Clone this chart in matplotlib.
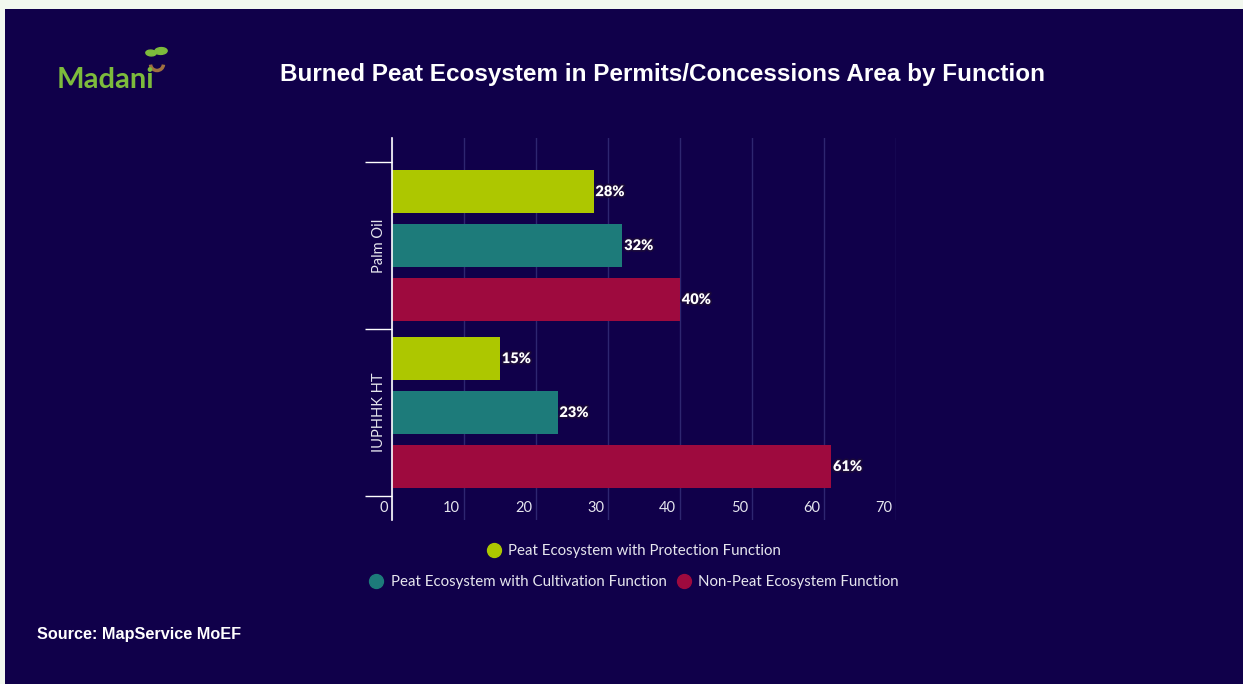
import matplotlib.pyplot as plt
import matplotlib.patheffects as pe
import matplotlib.transforms as mtransforms
from matplotlib.lines import Line2D
from matplotlib.patches import Ellipse, Arc

# data
categories = ["Palm Oil", "IUPHHK HT"]
series = ["Peat Ecosystem with Protection Function",
          "Peat Ecosystem with Cultivation Function",
          "Non-Peat Ecosystem Function"]
protection = [28, 15]
cultivation = [32, 23]
non_peat = [40, 61]
xticks = [0, 10, 20, 30, 40, 50, 60, 70]

colors = ["#adc700", "#1d7b7a", "#9e0a3e"]
bg = "#10004a"
W, H = 1243, 684

fig = plt.figure(figsize=(W / 100, H / 100), dpi=100)
fig.patch.set_facecolor(bg)

# light border strips (top and left) like the screenshot
fig.add_artist(plt.Rectangle((0, 1 - 9 / H), 1, 9 / H, transform=fig.transFigure,
                             color="#f2f8ef", lw=0))
fig.add_artist(plt.Rectangle((0, 0), 5 / W, 1, transform=fig.transFigure,
                             color="#f2f8ef", lw=0))

ax = fig.add_axes([392 / W, 1 - 520 / H, (896 - 392) / W, (520 - 138) / H])
ax.set_facecolor(bg)

offsets = [-0.323, 0, 0.323]
bar_h = 0.257
for vals, off, col in zip([protection, cultivation, non_peat], offsets, colors):
    ys = [i + off for i in range(len(categories))]
    bars = ax.barh(ys, vals, height=bar_h, color=col, edgecolor="none")
    for b, v in zip(bars, vals):
        ax.text(v + 0.25, b.get_y() + b.get_height() / 2, f"{v}%", color="white",
                fontsize=10.5, fontweight="heavy", family="Lato", va="center", ha="left",
                path_effects=[pe.withStroke(linewidth=2.5, foreground="#1a0a3a")])

ax.set_xlim(0, 70)
ax.set_ylim(1.644, -0.644)

# grid
ax.set_xticks(xticks)
ax.grid(axis="x", color="#2e2670", lw=1)
ax.set_axisbelow(True)
ax.tick_params(axis="x", length=0, pad=-14, labelsize=10.5, labelcolor="#e6e6ee")
for lab in ax.get_xticklabels():
    lab.set_family("Lato")
    lab.set_horizontalalignment("right")
    lab.set_transform(lab.get_transform() +
                      mtransforms.ScaledTranslation(-4 / 100, 0, fig.dpi_scale_trans))

# category boundaries as ticks, names as minor ticks
ax.set_yticks([-0.5, 0.5, 1.5])
ax.set_yticklabels([])
ax.tick_params(axis="y", which="major", length=19.4, color="white", width=1)
ax.set_yticks([0, 1], minor=True)
ax.set_yticklabels(categories, minor=True, rotation=90, va="center",
                   fontsize=10.5, color="#e6e6ee", family="Lato")
ax.tick_params(axis="y", which="minor", length=0, pad=4)

for s in ["top", "right", "bottom"]:
    ax.spines[s].set_visible(False)
ax.spines["left"].set_color("white")
ax.spines["left"].set_linewidth(1.2)

# title
fig.text(662 / W, 1 - 74 / H, "Burned Peat Ecosystem in Permits/Concessions Area by Function",
         color="white", fontsize=17.5, fontweight="bold", family="Liberation Sans",
         ha="center", va="center")

# source
fig.text(37 / W, 1 - 634 / H, "Source: MapService MoEF", color="white", fontsize=11.7,
         fontweight="bold", family="Liberation Sans", ha="left", va="center")

# logo
fig.text(57 / W, 1 - 80 / H, "Madani", color="#7dbb3c", fontsize=21, fontweight="bold",
         family="Lato", ha="left", va="center")
fig.add_artist(Ellipse((151 / W, 1 - 53 / H), 10 / W, 6 / H, angle=35,
                       transform=fig.transFigure, color="#7dbb3c"))
fig.add_artist(Ellipse((161 / W, 1 - 51 / H), 12 / W, 7 / H, angle=-40,
                       transform=fig.transFigure, color="#7dbb3c"))
fig.add_artist(Arc((157 / W, 1 - 64 / H), 13 / W, 13 / H, theta1=190, theta2=350,
                   transform=fig.transFigure, color="#a07040", lw=2.5))

# legend
def handle(c):
    return Line2D([], [], marker="o", color="none", markerfacecolor=c,
                  markeredgecolor=c, markersize=10)

leg_kw = dict(frameon=False, labelcolor="#e6e6ee", handletextpad=0.35,
              columnspacing=0.55, handlelength=1.2, prop={"family": "Lato", "size": 10.8})
leg1 = fig.legend([handle(colors[0])], [series[0]], loc="center",
                  bbox_to_anchor=(633 / W, 1 - 551 / H), **leg_kw)
leg2 = fig.legend([handle(colors[1]), handle(colors[2])], series[1:], loc="center", ncol=2,
                  bbox_to_anchor=(633 / W, 1 - 582 / H), **leg_kw)

fig.savefig("out.png", dpi=100, facecolor=bg)
